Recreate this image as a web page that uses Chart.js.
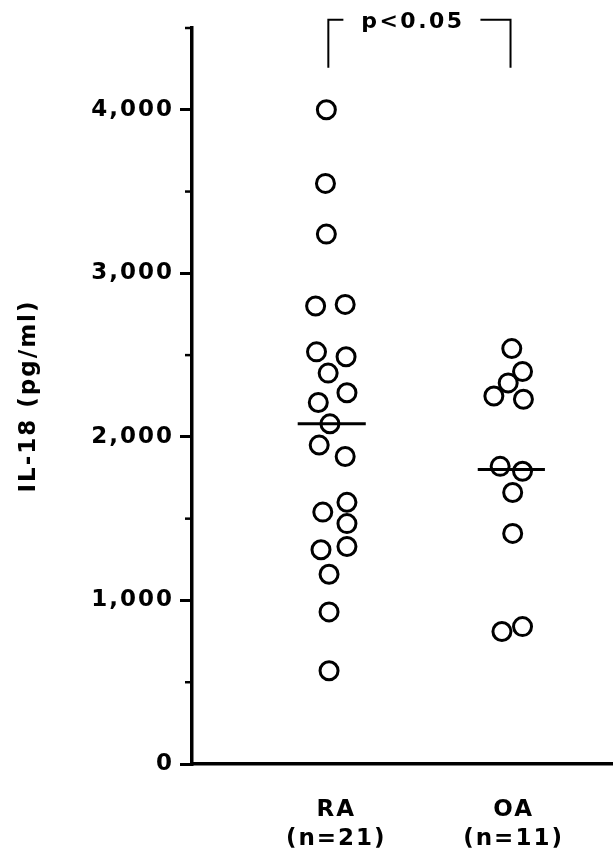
<!DOCTYPE html>
<html lang="en">
<head>
<meta charset="UTF-8">
<title>IL-18</title>
<script src="https://cdn.jsdelivr.net/npm/chart.js@4.4.1/dist/chart.umd.min.js"></script>
<style>
  html, body { margin: 0; padding: 0; background: #fff; overflow: hidden; }
  #wrap { width: 613px; height: 867px; position: relative; }
  canvas { display: block; }
</style>
</head>
<body>
<div id="wrap"><canvas id="grafico"></canvas></div>
<script>
// valores
const categorias = ['RA', 'OA'];
const rotulosX = [['RA', '(n=21)'], ['OA', '(n=11)']];
const posRotulos = [1.055, 2.045];

const raValores = [4000, 3550, 3240, 2800, 2810, 2520, 2490, 2390, 2270, 2210, 2080,
                   1950, 1880, 1600, 1540, 1470, 1330, 1310, 1160, 930, 570];
const raX = [1.00, 0.995, 1.00, 0.94, 1.105, 0.945, 1.11, 1.01, 1.115, 0.955, 1.02,
             0.96, 1.105, 1.115, 0.98, 1.115, 1.115, 0.97, 1.015, 1.015, 1.015];

const oaValores = [2540, 2400, 2330, 2250, 2230, 1820, 1790, 1660, 1410, 840, 810];
const oaX = [2.035, 2.095, 2.015, 1.935, 2.10, 1.97, 2.095, 2.04, 2.04, 2.095, 1.98];

const medianas = [2080, 1800];
const medianaX = [[0.84, 1.22], [1.845, 2.22]];

// colchete do p-valor
const colcheteX = [1.011, 1.095, 1.86, 2.028];
const colcheteY = [4257, 4550];
const textoP = 'p<0.05';

const yTicks = { min: 0, max: 4500, step: 500 };

function pontos(xs, ys) {
    return ys.map((v, i) => ({ x: xs[i], y: v }));
}

const estiloPonto = {
    pointStyle: 'circle',
    pointRadius: 9,
    pointHoverRadius: 9,
    pointBorderWidth: 3,
    pointBorderColor: '#000',
    pointBackgroundColor: 'rgba(255,255,255,0)',
    showLine: false
};

const estiloLinha = {
    showLine: true,
    borderColor: '#000',
    borderWidth: 3,
    pointRadius: 0,
    clip: false
};

const dados = {
    datasets: [
        Object.assign({ label: categorias[0], data: pontos(raX, raValores) }, estiloPonto),
        Object.assign({ label: categorias[1], data: pontos(oaX, oaValores) }, estiloPonto),
        Object.assign({ label: 'mediana RA', data: [{ x: medianaX[0][0], y: medianas[0] }, { x: medianaX[0][1], y: medianas[0] }] }, estiloLinha),
        Object.assign({ label: 'mediana OA', data: [{ x: medianaX[1][0], y: medianas[1] }, { x: medianaX[1][1], y: medianas[1] }] }, estiloLinha),
        Object.assign({ label: 'colchete esq', data: [{ x: colcheteX[0], y: colcheteY[0] }, { x: colcheteX[0], y: colcheteY[1] }, { x: colcheteX[1], y: colcheteY[1] }] }, estiloLinha, { borderWidth: 2 }),
        Object.assign({ label: 'colchete dir', data: [{ x: colcheteX[2], y: colcheteY[1] }, { x: colcheteX[3], y: colcheteY[1] }, { x: colcheteX[3], y: colcheteY[0] }] }, estiloLinha, { borderWidth: 2 })
    ]
};

// espacamento das letras (fonte da figura e bem larga)
const espacamento = {
    id: 'espacamento',
    beforeDraw(chart) {
        chart.ctx.letterSpacing = '2px';
    }
};

// tracinhos menores nos 500 e o texto do p
const extras = {
    id: 'extras',
    afterDraw(chart) {
        const ctx = chart.ctx;
        const y = chart.scales.y;
        const x = chart.scales.x;
        const esq = chart.chartArea.left;
        ctx.save();
        ctx.strokeStyle = '#000';
        ctx.lineWidth = 2.5;
        y.ticks.forEach(t => {
            if (t.value % 1000 !== 0) {
                const py = y.getPixelForValue(t.value);
                ctx.beginPath();
                ctx.moveTo(esq - 7, py);
                ctx.lineTo(esq, py);
                ctx.stroke();
            }
        });
        ctx.fillStyle = '#000';
        ctx.font = 'bold 22px "DejaVu Sans"';
        ctx.letterSpacing = '2.5px';
        ctx.textAlign = 'center';
        ctx.textBaseline = 'middle';
        ctx.fillText(textoP, x.getPixelForValue((colcheteX[1] + colcheteX[2]) / 2) + 1, y.getPixelForValue(colcheteY[1]) + 2);
        ctx.restore();
    }
};

Chart.defaults.font.family = '"DejaVu Sans"';
Chart.defaults.font.weight = 'bold';
Chart.defaults.color = '#000';

const config = {
    type: 'scatter',
    data: dados,
    options: {
        responsive: true,
        maintainAspectRatio: false,
        animation: false,
        layout: { autoPadding: false, padding: { top: 28, right: 0, left: 0, bottom: 0 } },
        plugins: {
            legend: { display: false },
            tooltip: { enabled: false }
        },
        scales: {
            x: {
                type: 'linear',
                min: 0.25,
                max: 2.6,
                afterBuildTicks: scale => { scale.ticks = posRotulos.map(v => ({ value: v })); },
                afterFit: scale => {
                    scale.height = 103;
                    scale.paddingLeft = 0;
                    scale.paddingRight = 0;
                },
                grid: { display: false },
                border: { display: true, color: '#000', width: 3.5 },
                ticks: {
                    autoSkip: false,
                    maxRotation: 0,
                    padding: 24,
                    font: { size: 23, weight: 'bold', lineHeight: 1.25 },
                    callback: (v, i) => rotulosX[i]
                }
            },
            y: {
                min: yTicks.min,
                max: yTicks.max,
                afterFit: scale => { scale.width = 192; },
                grid: {
                    drawOnChartArea: false,
                    drawTicks: true,
                    tickLength: 12,
                    lineWidth: 3,
                    tickColor: c => (c.tick && c.tick.value % 1000 === 0) ? '#000' : 'rgba(0,0,0,0)'
                },
                border: { display: true, color: '#000', width: 3.5 },
                ticks: {
                    stepSize: yTicks.step,
                    padding: 6,
                    font: { size: 23, weight: 'bold' },
                    callback: v => v % 1000 === 0 ? v.toLocaleString('en-US') : ''
                },
                title: {
                    display: true,
                    text: 'IL-18 (pg/ml)',
                    font: { size: 23, weight: 'bold' },
                    padding: { top: 15, bottom: 0 }
                }
            }
        }
    },
    plugins: [espacamento, extras]
};

let meuGrafico = new Chart(document.getElementById('grafico'), config);
</script>
</body>
</html>
